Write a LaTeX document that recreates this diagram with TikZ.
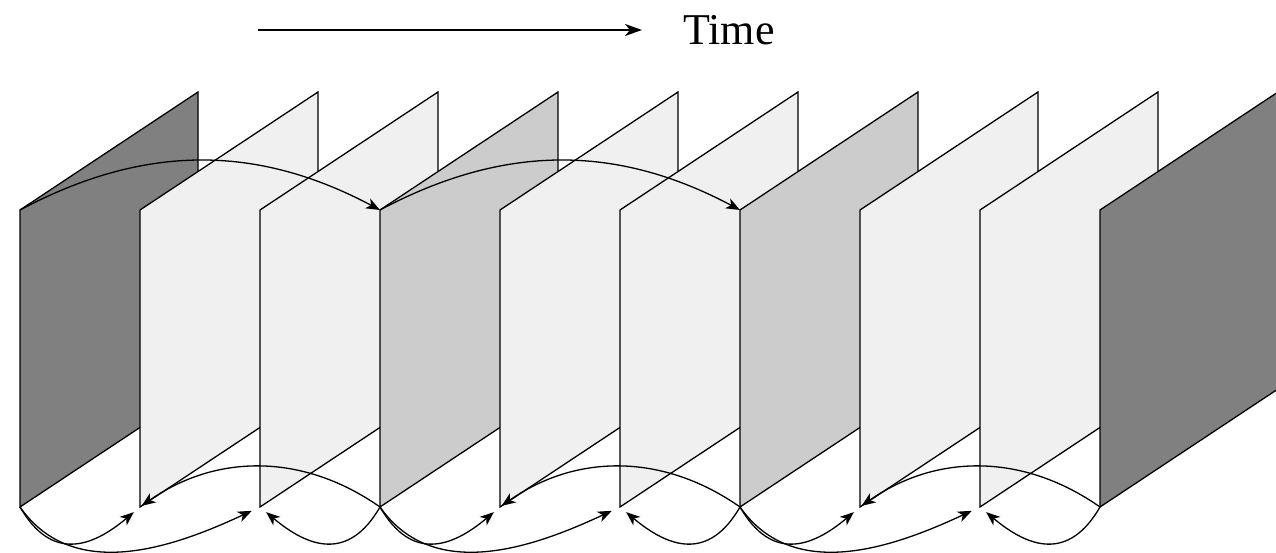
\documentclass[tikz,border=0pt]{standalone}
\usepackage{fontspec}
\setmainfont{Liberation Serif}
\usepackage{xcolor}
\usepackage{tikz}
\usetikzlibrary{arrows.meta}

\definecolor{framedark}{gray}{0.5}
\definecolor{framemid}{gray}{0.8}
\definecolor{framelight}{gray}{0.94}

\begin{document}
\begin{tikzpicture}[
		x=1pt, y=1pt,
		frameplate/.style={
			draw,
			line width=1.3pt,
			line join=miter
		},
		predarrow/.style={-{Stealth[length=14pt,width=11pt,inset=4pt]}, line width=1.3pt},
		timearrow/.style={-{Stealth[length=17pt,width=12pt,inset=5pt]}, line width=1.8pt}
	]
		\useasboundingbox (0,0) rectangle (1276,553);

		% bottom-left corners of the frames
		\coordinate (f0) at (20,46);
		\coordinate (f1) at (140,46);
		\coordinate (f2) at (260,46);
		\coordinate (f3) at (380,46);
		\coordinate (f4) at (500,46);
		\coordinate (f5) at (620,46);
		\coordinate (f6) at (740,46);
		\coordinate (f7) at (860,46);
		\coordinate (f8) at (980,46);
		\coordinate (f9) at (1100,46);
		% top-left corners of the anchor frames
		\coordinate (t0) at (20,343);
		\coordinate (t3) at (380,343);
		\coordinate (t6) at (740,343);

		\draw[frameplate, fill=framedark] (f0) -- ++(0,297) -- ++(178,118) -- ++(0,-297) -- cycle;
		\draw[frameplate, fill=framelight] (f1) -- ++(0,297) -- ++(178,118) -- ++(0,-297) -- cycle;
		\draw[frameplate, fill=framelight] (f2) -- ++(0,297) -- ++(178,118) -- ++(0,-297) -- cycle;
		\draw[frameplate, fill=framemid] (f3) -- ++(0,297) -- ++(178,118) -- ++(0,-297) -- cycle;
		\draw[frameplate, fill=framelight] (f4) -- ++(0,297) -- ++(178,118) -- ++(0,-297) -- cycle;
		\draw[frameplate, fill=framelight] (f5) -- ++(0,297) -- ++(178,118) -- ++(0,-297) -- cycle;
		\draw[frameplate, fill=framemid] (f6) -- ++(0,297) -- ++(178,118) -- ++(0,-297) -- cycle;
		\draw[frameplate, fill=framelight] (f7) -- ++(0,297) -- ++(178,118) -- ++(0,-297) -- cycle;
		\draw[frameplate, fill=framelight] (f8) -- ++(0,297) -- ++(178,118) -- ++(0,-297) -- cycle;
		\draw[frameplate, fill=framedark] (f9) -- ++(0,297) -- ++(178,118) -- ++(0,-297) -- cycle;

		% forward references over the top
		\draw[predarrow] (t0) to[out=28, in=152] (t3);
		\draw[predarrow] (t3) to[out=28, in=152] (t6);

		% references underneath
		\draw[predarrow, shorten >=8pt] (f0) to[out=-60, in=-140, looseness=1.35] (f1);
		\draw[predarrow, shorten >=9pt] (f0) to[out=-55, in=-155] (f2);
		\draw[predarrow, shorten >=8pt] (f3) to[out=-120, in=-40, looseness=1.35] (f2);
		\draw[predarrow, shorten >=2pt] (f3) to[out=145, in=35] (f1);

		\draw[predarrow, shorten >=8pt] (f3) to[out=-60, in=-140, looseness=1.35] (f4);
		\draw[predarrow, shorten >=9pt] (f3) to[out=-55, in=-155] (f5);
		\draw[predarrow, shorten >=8pt] (f6) to[out=-120, in=-40, looseness=1.35] (f5);
		\draw[predarrow, shorten >=2pt] (f6) to[out=145, in=35] (f4);

		\draw[predarrow, shorten >=8pt] (f6) to[out=-60, in=-140, looseness=1.35] (f7);
		\draw[predarrow, shorten >=9pt] (f6) to[out=-55, in=-155] (f8);
		\draw[predarrow, shorten >=8pt] (f9) to[out=-120, in=-40, looseness=1.35] (f8);
		\draw[predarrow, shorten >=2pt] (f9) to[out=145, in=35] (f7);

		% time axis
		\coordinate (tstart) at (258,523);
		\coordinate (tend) at (642,523);
		\node[anchor=base west, inner sep=0pt, font=\fontsize{44}{50}\selectfont] (timelabel) at (683,508) {Time};
		\draw[timearrow] (tstart) -- (tend);
	\end{tikzpicture}
\end{document}
